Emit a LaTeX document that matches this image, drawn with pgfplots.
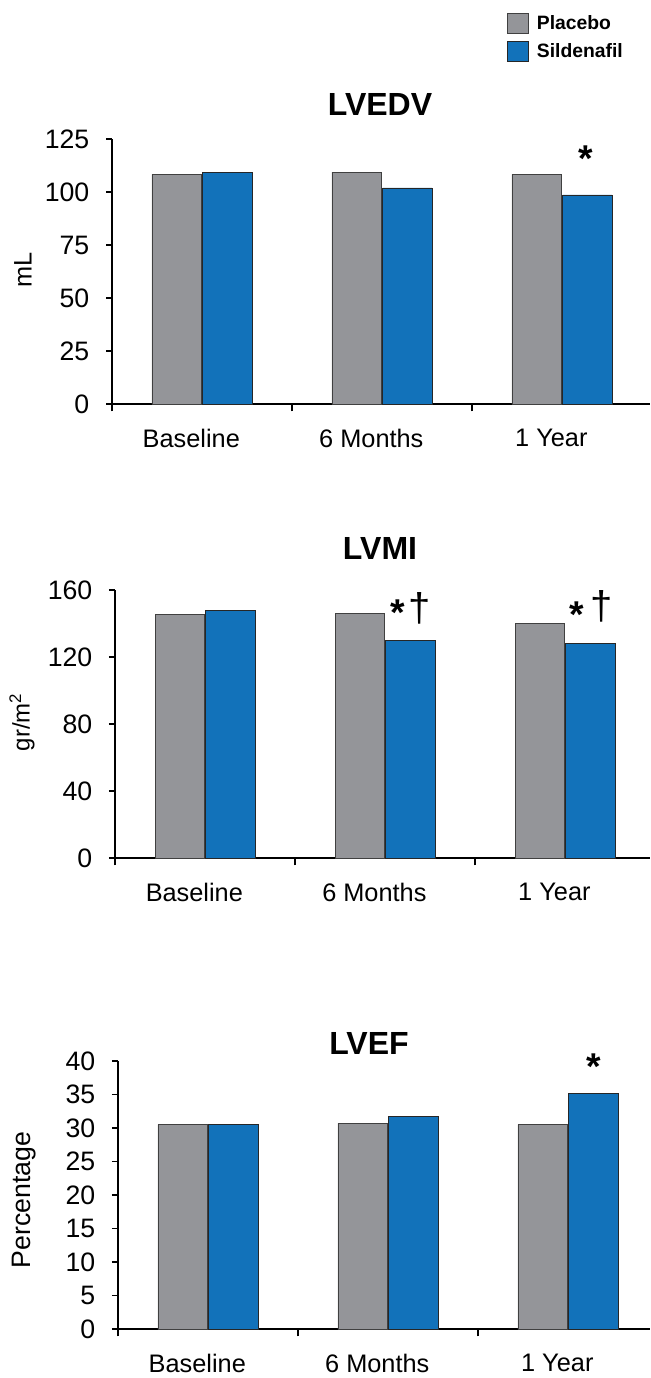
\documentclass[border=0pt]{standalone}
\usepackage{fontspec}
\setmainfont{Liberation Sans}
\usepackage{pgfplots}
\pgfplotsset{compat=1.18}
\definecolor{placcol}{RGB}{148,149,153}
\definecolor{sildcol}{RGB}{18,114,186}
\tikzset{
  sigstar/.style={font=\fontsize{28}{30}\selectfont\bfseries, anchor=base},
  sigdag/.style={font=\fontsize{30}{32}\selectfont, anchor=base},
}
\pgfplotsset{
  panel/.style={
    scale only axis,
    clip=false,
    anchor=south west,
    axis x line*=bottom,
    axis y line*=left,
    axis line style={-, line width=1.1pt, black},
    xmin=-0.5,
    ymin=0,
    xtick={0,1,2},
    xticklabels={Baseline,6 Months,1 Year},
    major x tick style={draw=none},
    minor xtick={-0.5,0.5,1.5},
    minor x tick style={line width=1.1pt, black},
    minor tick length=5.5pt,
    major tick length=4.5pt,
    tick align=outside,
    y tick style={line width=1.1pt, black},
    ybar=1pt,
    bar width=37pt,
    /pgf/number format/assume math mode=true,
    yticklabel style={font=\fontsize{20}{22}\selectfont, xshift=-9pt},
    xticklabel style={font=\fontsize{19}{21}\selectfont, yshift=-10.5pt, xshift=-8pt},
    legend image code/.code={\draw[#1] (0pt,-7.5pt) rectangle (16pt,7.5pt);
      \path[draw=none, fill=none] (16pt,0pt) -- (20pt,0pt);},
  },
  placbar/.style={fill=placcol, draw=black!75, line width=0.6pt},
  sildbar/.style={fill=sildcol, draw=black!85, line width=0.6pt},
}
\begin{document}
\begin{tikzpicture}
\useasboundingbox (0,0) rectangle (487.5pt,-1033.5pt);
% ---------- LVEDV ----------
\begin{axis}[panel,
  at={(84pt,-303pt)}, width=403.5pt, height=198.75pt,
  xmax=2.489, ymax=125, ytick={0,25,50,75,100,125},
  legend style={at={(0.734,1.479)}, anchor=north west, draw=none, fill=none,
    inner sep=0pt, font=\fontsize{14.5}{16}\selectfont\bfseries,
    legend cell align=left, row sep=5pt},
]
\addplot[placbar] coordinates {(0,108.3) (1,109.4) (2,108.3)};
\addplot[sildbar] coordinates {(0,109.4) (1,101.9) (2,98.6)};
\legend{Placebo,Sildenafil}
\node[sigstar] at (axis cs:2.134,109.5) {*};
\end{axis}
% ---------- LVMI ----------
\begin{axis}[panel,
  at={(86.25pt,-643.5pt)}, width=401.25pt, height=201pt,
  xmax=2.472, ymax=160, ytick={0,40,80,120,160},
]
\addplot[placbar] coordinates {(0,145.4) (1,146.0) (2,140.0)};
\addplot[sildbar] coordinates {(0,148.0) (1,129.9) (2,127.9)};
\node[sigstar] at (axis cs:1.073,138.6) {*};
\node[sigdag] at (axis cs:1.19,141) {†};
\node[sigstar] at (axis cs:2.064,137.4) {*};
\node[sigdag] at (axis cs:2.205,142.5) {†};
\end{axis}
% ---------- LVEF ----------
\begin{axis}[panel,
  at={(88.5pt,-996.75pt)}, width=399pt, height=201pt,
  xmax=2.456, ymax=40, ytick={0,5,...,40},
]
\addplot[placbar] coordinates {(0,30.5) (1,30.7) (2,30.5)};
\addplot[sildbar] coordinates {(0,30.5) (1,31.7) (2,35.2)};
\node[sigstar] at (axis cs:2.144,37.2) {*};
\end{axis}
% titles and axis labels
\node[font=\fontsize{24}{26}\selectfont\bfseries] at (285pt,-78pt) {LVEDV};
\node[font=\fontsize{24}{26}\selectfont\bfseries] at (285pt,-411pt) {LVMI};
\node[font=\fontsize{24}{26}\selectfont\bfseries] at (276.75pt,-782.25pt) {LVEF};
\node[rotate=90, font=\fontsize{19}{21}\selectfont] at (17.25pt,-202.5pt) {mL};
\node[rotate=90, font=\fontsize{18}{20}\selectfont] at (16.5pt,-541.5pt) {gr/m\textsuperscript{2}};
\node[rotate=90, font=\fontsize{20}{22}\selectfont] at (18pt,-900pt) {Percentage};
\end{tikzpicture}
\end{document}
